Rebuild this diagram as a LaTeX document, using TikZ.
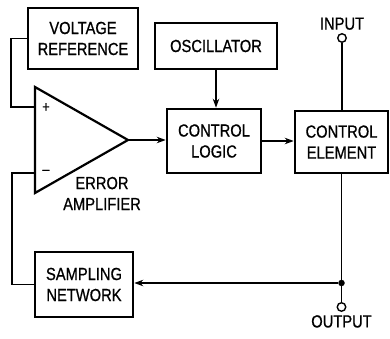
\documentclass[tikz,border=0pt]{standalone}
\usepackage{fontspec}
\setmainfont[FakeStretch=0.84,FakeBold=0.8]{Liberation Sans}
\usetikzlibrary{arrows.meta}
\begin{document}
\begin{tikzpicture}[x=1pt,y=-1pt,
  blk/.style={draw,line width=2.6pt,align=center,inner sep=0pt,font=\fontsize{17.5}{21}\selectfont},
  wire/.style={line width=1.4pt},
  arr/.style={wire,-{Stealth[length=9pt,width=6.5pt]}},
  lbl/.style={font=\fontsize{17.5}{21}\selectfont,align=center,inner sep=0pt},
  term/.style={circle,draw,line width=1.4pt,fill=white,minimum size=8.5pt,inner sep=0pt},
  dot/.style={circle,fill,minimum size=6.5pt,inner sep=0pt}]
\useasboundingbox (0,0) rectangle (390,339);
\node[blk,minimum width=110pt,minimum height=61pt] (vref) at (83,38.5) {VOLTAGE\\REFERENCE};
\node[blk,minimum width=122pt,minimum height=46pt] (osc) at (216,46) {OSCILLATOR};
\node[blk,minimum width=94pt,minimum height=64pt] (cl) at (214,141) {CONTROL\\LOGIC};
\node[blk,minimum width=93pt,minimum height=62pt] (ce) at (341.5,142) {CONTROL\\ELEMENT};
\node[blk,minimum width=98pt,minimum height=65pt] (samp) at (84,284.5) {SAMPLING\\NETWORK};
% op-amp
\coordinate (tl) at (35,87);
\coordinate (bl) at (35,193);
\coordinate (ap) at (128,140);
\coordinate (pin) at (35,107);
\coordinate (nin) at (35,173);
\draw[line width=2.2pt,line join=miter] (tl) -- (ap) -- (bl) -- cycle;
\node[font=\fontsize{15}{15}\selectfont,inner sep=0pt] (plus) at (46,107.5) {+};
\node[font=\fontsize{15}{15}\selectfont,inner sep=0pt] (minus) at (46,172) {--};
\node[lbl] (ea) at (102,193.5) {ERROR\\AMPLIFIER};
% terminals
\node[term] (in) at (342,38) {};
\node[lbl,anchor=south] (intxt) at (342,30) {INPUT};
\node[dot] (j) at (341.5,283) {};
\node[term] (out) at (341.5,307) {};
\node[lbl,anchor=north] (outtxt) at (341.5,315) {OUTPUT};
% connectors
\draw[wire] (vref.west) -- (11,38.5) -- (11,107) -- (pin);
\draw[wire] (samp.west) -- (12,284.5) -- (12,173) -- (nin);
\draw[arr] (ap) -- (cl.west |- ap);
\draw[arr] (osc.south) -- (osc.south |- cl.north);
\draw[arr] (cl.east) -- (ce.west |- cl.east);
\draw[wire] (in) -- (in |- ce.north);
\draw[wire] (ce.south) -- (j) -- (out);
\draw[arr] (j) -- (samp.east |- j);
\end{tikzpicture}
\end{document}
